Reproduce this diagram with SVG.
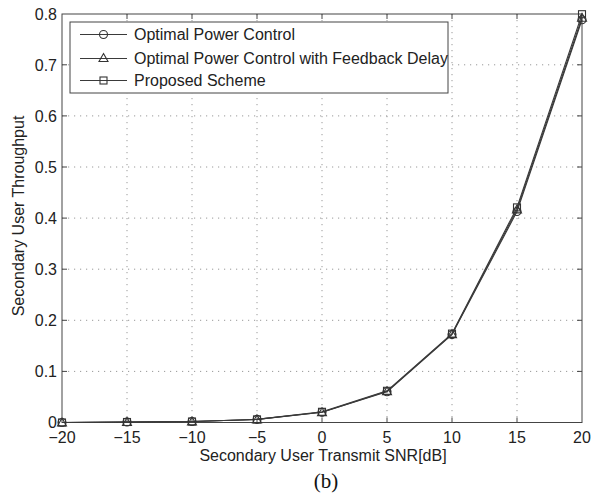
<svg xmlns="http://www.w3.org/2000/svg" width="606" height="495" viewBox="0 0 606 495">
  <style>
    .txt { font-family: "Liberation Sans", Arial, sans-serif; font-size: 16px; fill: #222; }
    .grid { stroke: #999; stroke-width: 1; stroke-dasharray: 1.2 4.8; fill: none; }
    .axis { stroke: #444; stroke-width: 1; fill: none; }
    .tick { stroke: #444; stroke-width: 1; }
    .series { stroke: #3a3a3a; stroke-width: 1.1; fill: none; stroke-linejoin: round; }
    .mk { stroke: #333; stroke-width: 1.1; fill: none; }
  </style>
  <defs>
    <circle id="m-circle" r="4" class="mk"/>
    <path id="m-tri" d="M0,-4.5 L4.5,3.5 L-4.5,3.5 Z" class="mk"/>
    <rect id="m-sq" x="-3.5" y="-3.5" width="7" height="7" class="mk"/>
  </defs>
  <rect width="606" height="495" fill="#fff"/>

  <!-- grid -->
  <g id="grid">
    <path class="grid" d="M127,14V422.5 M192,14V422.5 M257,14V422.5 M322,14V422.5 M387,14V422.5 M452,14V422.5 M517,14V422.5"/>
    <path class="grid" d="M62,371.4H582 M62,320.3H582 M62,269.2H582 M62,218.1H582 M62,167H582 M62,115.9H582 M62,64.8H582"/>
  </g>

  <!-- axes frame and ticks -->
  <g id="axes">
    <rect class="axis" x="62" y="14" width="520" height="408.5"/>
    <path class="tick" d="M127,422.5v-5 M192,422.5v-5 M257,422.5v-5 M322,422.5v-5 M387,422.5v-5 M452,422.5v-5 M517,422.5v-5
      M127,14v5 M192,14v5 M257,14v5 M322,14v5 M387,14v5 M452,14v5 M517,14v5
      M62,371.4h5 M62,320.3h5 M62,269.2h5 M62,218.1h5 M62,167h5 M62,115.9h5 M62,64.8h5
      M582,371.4h-5 M582,320.3h-5 M582,269.2h-5 M582,218.1h-5 M582,167h-5 M582,115.9h-5 M582,64.8h-5"/>
    <g class="txt" text-anchor="middle">
      <text x="62" y="443">−20</text>
      <text x="127" y="443">−15</text>
      <text x="192" y="443">−10</text>
      <text x="257" y="443">−5</text>
      <text x="322" y="443">0</text>
      <text x="387" y="443">5</text>
      <text x="452" y="443">10</text>
      <text x="517" y="443">15</text>
      <text x="582" y="443">20</text>
    </g>
    <g class="txt" text-anchor="end">
      <text x="57" y="427.5">0</text>
      <text x="57" y="377">0.1</text>
      <text x="57" y="326">0.2</text>
      <text x="57" y="275">0.3</text>
      <text x="57" y="224">0.4</text>
      <text x="57" y="172.5">0.5</text>
      <text x="57" y="121.5">0.6</text>
      <text x="57" y="70.5">0.7</text>
      <text x="57" y="19.5">0.8</text>
    </g>
    <text class="txt" x="323" y="460.5" text-anchor="middle">Secondary User Transmit SNR[dB]</text>
    <text class="txt" transform="translate(24,216) rotate(-90)" text-anchor="middle">Secondary User Throughput</text>
  </g>

  <!-- data curves -->
  <g id="connectors">
    <polyline class="series" points="62,422.5 127,422 192,421.5 257,419.4 322,412.3 387,391.8 452,334.6 517,211.5 582,19.8"/>
    <polyline class="series" points="62,422.5 127,422 192,421.5 257,419.4 322,412.3 387,391.3 452,334.1 517,209.4 582,17.8"/>
    <polyline class="series" points="62,422.5 127,422 192,421.5 257,419.4 322,411.8 387,390.8 452,333.6 517,207.4 582,14.2"/>
  </g>

  <g id="markers-optimal">
    <use href="#m-circle" x="62" y="422.5"/><use href="#m-circle" x="127" y="422"/><use href="#m-circle" x="192" y="421.5"/>
    <use href="#m-circle" x="257" y="419.4"/><use href="#m-circle" x="322" y="412.3"/><use href="#m-circle" x="387" y="391.8"/>
    <use href="#m-circle" x="452" y="334.6"/><use href="#m-circle" x="517" y="211.5"/><use href="#m-circle" x="582" y="19.8"/>
  </g>
  <g id="markers-delay">
    <use href="#m-tri" x="62" y="422.5"/><use href="#m-tri" x="127" y="422"/><use href="#m-tri" x="192" y="421.5"/>
    <use href="#m-tri" x="257" y="419.4"/><use href="#m-tri" x="322" y="412.3"/><use href="#m-tri" x="387" y="391.3"/>
    <use href="#m-tri" x="452" y="334.1"/><use href="#m-tri" x="517" y="209.4"/><use href="#m-tri" x="582" y="17.8"/>
  </g>
  <g id="markers-proposed">
    <use href="#m-sq" x="62" y="422.5"/><use href="#m-sq" x="127" y="422"/><use href="#m-sq" x="192" y="421.5"/>
    <use href="#m-sq" x="257" y="419.4"/><use href="#m-sq" x="322" y="411.8"/><use href="#m-sq" x="387" y="390.8"/>
    <use href="#m-sq" x="452" y="333.6"/><use href="#m-sq" x="517" y="207.4"/><use href="#m-sq" x="582" y="14.2"/>
  </g>

  <!-- legend -->
  <g id="legend">
    <rect x="70" y="22" width="378" height="71" fill="#fff" stroke="#444" stroke-width="1"/>
    <path class="series" stroke-width="1" d="M80,34.5H127 M80,58.5H127 M80,80.5H127"/>
    <use href="#m-circle" x="103.5" y="34.5"/>
    <use href="#m-tri" x="103.5" y="58"/>
    <use href="#m-sq" x="103.5" y="80.5"/>
    <text class="txt" x="134" y="40">Optimal Power Control</text>
    <text class="txt" x="134" y="64">Optimal Power Control with Feedback Delay</text>
    <text class="txt" x="134" y="86">Proposed Scheme</text>
  </g>

  <text id="caption" x="326" y="488" text-anchor="middle" font-family="'Liberation Serif', 'Times New Roman', serif" font-size="21" fill="#111">(b)</text>
</svg>
